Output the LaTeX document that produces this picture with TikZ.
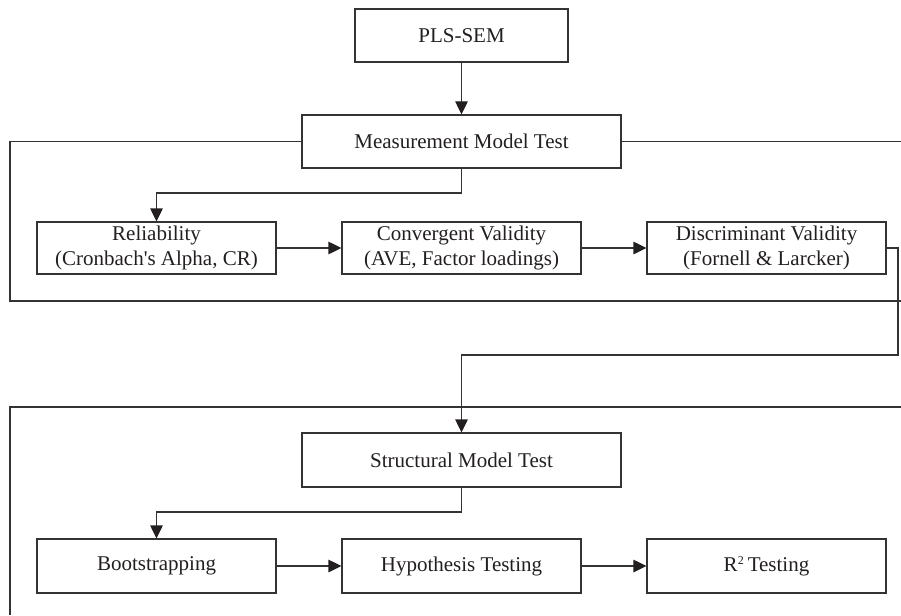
\documentclass[tikz,border=0pt]{standalone}
\usepackage{fontspec}
\setmainfont{Liberation Serif}
\usetikzlibrary{arrows.meta}
\definecolor{ln}{HTML}{333333}
\definecolor{tx}{HTML}{231F20}
\tikzset{
  box/.style={draw=ln, line width=1.2pt, fill=white, text=tx, align=center,
    minimum height=53pt, inner sep=0pt, font=\fontsize{21}{25.8}\selectfont},
  wbox/.style={box, minimum width=239pt},
  arr/.style={draw=ln, line width=1.2pt, -{Triangle[length=13pt,width=12.5pt,color=tx]}},
  frame/.style={draw=ln, line width=1.2pt},
}
\begin{document}
\begin{tikzpicture}[x=1pt,y=-1pt]
\useasboundingbox (0,0) rectangle (901,615);
\node[box, minimum width=213pt] (pls) at (461.5,35.5) {PLS-SEM};
\node[box, minimum width=319pt] (mmt) at (461.5,141.5) {Measurement Model Test};
\node[wbox, minimum height=52pt] (rel) at (156.5,248) {Reliability\\(Cronbach\textquotesingle s Alpha, CR)};
\node[wbox, minimum height=52pt] (conv) at (461.5,248) {Convergent Validity\\(AVE, Factor loadings)};
\node[wbox, minimum height=52pt] (disc) at (766.5,248) {Discriminant Validity\\(Fornell \& Larcker)};
\node[box, minimum width=319pt, minimum height=54pt] (smt) at (461.5,460) {Structural Model Test};
\node[wbox, minimum height=54pt] (boot) at (156.5,566) {Bootstrapping};
\node[wbox, minimum height=54pt] (hyp) at (461.5,566) {Hypothesis Testing};
\node[wbox, minimum height=54pt] (r2) at (766.5,566) {R\raisebox{0.75ex}{\fontsize{12}{12}\selectfont 2}\hspace{4pt}Testing};

% frames
\coordinate (f1) at (10,141.5);
\coordinate (f2) at (10,301);
\coordinate (f3) at (901,301);
\coordinate (f4) at (901,141.5);
\draw[frame] (mmt.west) -- (f1) -- (f2) -- (f3);
\draw[frame] (mmt.east) -- (f4);
\coordinate (g1) at (901,407);
\coordinate (g2) at (10,407);
\coordinate (g3) at (10,615);
\draw[frame] (g1) -- (g2) -- (g3);

% connectors
\draw[arr] (pls.south) -- (mmt.north);
\coordinate (b1) at (461.5,193);
\draw[arr] (mmt.south) -- (b1) -| (rel.north);
\draw[arr] (rel.east) -- (conv.west);
\draw[arr] (conv.east) -- (disc.west);
\coordinate (d1) at (898,248);
\coordinate (d2) at (461.5,355);
\draw[arr] (disc.east) -- (d1) |- (d2) -- (smt.north);
\coordinate (b2) at (461.5,512);
\draw[arr] (smt.south) -- (b2) -| (boot.north);
\draw[arr] (boot.east) -- (hyp.west);
\draw[arr] (hyp.east) -- (r2.west);
\end{tikzpicture}
\end{document}
